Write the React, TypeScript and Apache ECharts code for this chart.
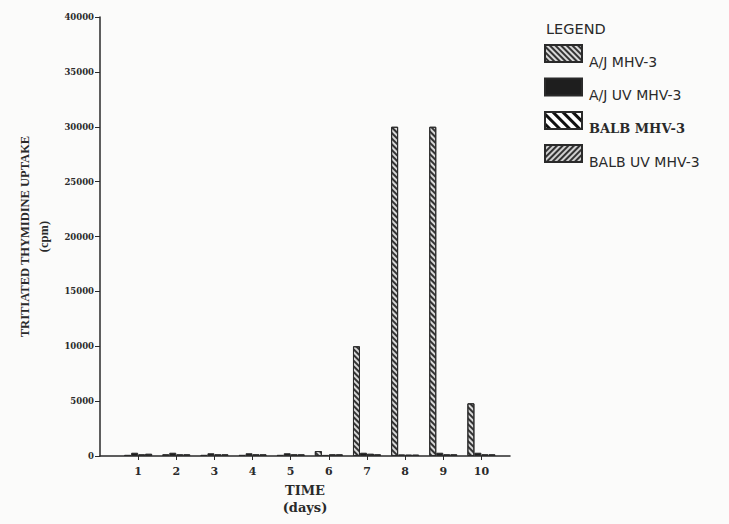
import React, { useEffect, useRef } from "react";
import * as echarts from "echarts";

const days = [1, 2, 3, 4, 5, 6, 7, 8, 9, 10];
const ajMhv3 = [100, 150, 100, 100, 100, 450, 10000, 30000, 30000, 4800];
const ajUvMhv3 = [300, 300, 250, 250, 250, 100, 300, 150, 300, 300];
const balbMhv3 = [150, 150, 150, 150, 150, 150, 200, 120, 150, 150];
const balbUvMhv3 = [200, 150, 150, 150, 150, 150, 150, 120, 150, 150];
const yTicks = [0, 5000, 10000, 15000, 20000, 25000, 30000, 35000, 40000];
const seriesNames = ["A/J MHV-3", "A/J UV MHV-3", "BALB MHV-3", "BALB UV MHV-3"];

const ink = "#2a2a2a";

export default function App() {
  const ref = useRef<HTMLDivElement>(null);
  useEffect(() => {
    if (!ref.current) return;
    const chart = echarts.init(ref.current, undefined, { renderer: "svg" });
    const pair = (arr: number[]) => days.map((d, i) => [d, arr[i]]);
    const mk = (name: string, arr: number[], fill: string, decal: any) => ({
      name,
      type: "bar",
      data: pair(arr),
      barWidth: 7,
      barGap: "0%",
      itemStyle: { color: fill, borderColor: ink, borderWidth: 1, decal },
    });
    chart.setOption({
      animation: false,
      backgroundColor: "#fbfbfa",
      grid: { left: 100, right: 219, top: 17, bottom: 68, containLabel: false },
      title: {
        text: "LEGEND",
        left: 541,
        top: 16,
        textStyle: { fontFamily: "DejaVu Sans", fontSize: 14.5, fontWeight: "normal", color: ink },
      },
      legend: {
        orient: "vertical",
        left: 539,
        top: 39,
        itemWidth: 37,
        itemHeight: 17,
        itemGap: 9,
        icon: "rect",
        data: seriesNames,
        formatter: (n: string) => (n === "BALB MHV-3" ? `{b|${n}}` : `{s|${n}}`),
        textStyle: {
          color: ink,
          padding: [16, 0, 0, 2],
          rich: {
            s: { fontFamily: "DejaVu Sans", fontSize: 14, color: ink, lineHeight: 16 },
            b: { fontFamily: "DejaVu Serif", fontSize: 13, fontWeight: "bold", color: ink, lineHeight: 16 },
          },
        },
      },
      xAxis: {
        type: "value",
        min: 0,
        max: 10.75,
        interval: 1,
        name: "TIME\n(days)",
        nameLocation: "middle",
        nameGap: 23,
        nameTextStyle: {
          fontFamily: "DejaVu Serif",
          fontWeight: "bold",
          fontSize: 13,
          color: ink,
          lineHeight: 17,
        },
        splitLine: { show: false },
        axisLine: { lineStyle: { color: ink, width: 1.5 } },
        axisTick: { customValues: days, length: 4, lineStyle: { color: ink } },
        axisLabel: {
          customValues: days,
          margin: 10,
          fontFamily: "DejaVu Serif",
          fontWeight: "bold",
          fontSize: 11,
          color: ink,
        },
      },
      yAxis: {
        type: "value",
        min: 0,
        max: 40000,
        interval: 5000,
        name: "TRITIATED THYMIDINE UPTAKE\n(cpm)",
        nameLocation: "middle",
        nameGap: 44,
        nameTextStyle: {
          fontFamily: "Liberation Serif",
          fontWeight: "bold",
          fontSize: 12.5,
          color: ink,
          lineHeight: 19,
        },
        splitLine: { show: false },
        axisLine: { show: true, lineStyle: { color: ink, width: 1.5 } },
        axisTick: { show: true, length: 5, lineStyle: { color: ink } },
        axisLabel: {
          customValues: yTicks,
          formatter: (v: number) => String(v),
          margin: 6,
          fontFamily: "DejaVu Serif",
          fontWeight: "bold",
          fontSize: 8.5,
          color: ink,
        },
      },
      series: [
        mk("A/J MHV-3", ajMhv3, "#d8d8d8", {
          symbol: "rect",
          symbolSize: 1,
          color: "#333",
          dashArrayX: [1, 0],
          dashArrayY: [1.5, 2],
          rotation: Math.PI / 4,
        }),
        mk("A/J UV MHV-3", ajUvMhv3, "#1e1e1e", undefined),
        mk("BALB MHV-3", balbMhv3, "#ffffff", {
          symbol: "rect",
          symbolSize: 1,
          color: "#111",
          dashArrayX: [1, 0],
          dashArrayY: [3, 4],
          rotation: Math.PI / 4,
        }),
        mk("BALB UV MHV-3", balbUvMhv3, "#d0d0d0", {
          symbol: "rect",
          symbolSize: 1,
          color: "#333",
          dashArrayX: [1, 0],
          dashArrayY: [1.2, 1.6],
          rotation: -Math.PI / 4,
        }),
      ],
    });
    return () => chart.dispose();
  }, []);
  return (
    <div
      ref={ref}
      style={{ position: "fixed", left: 0, top: 0, width: 729, height: 524 }}
    />
  );
}
